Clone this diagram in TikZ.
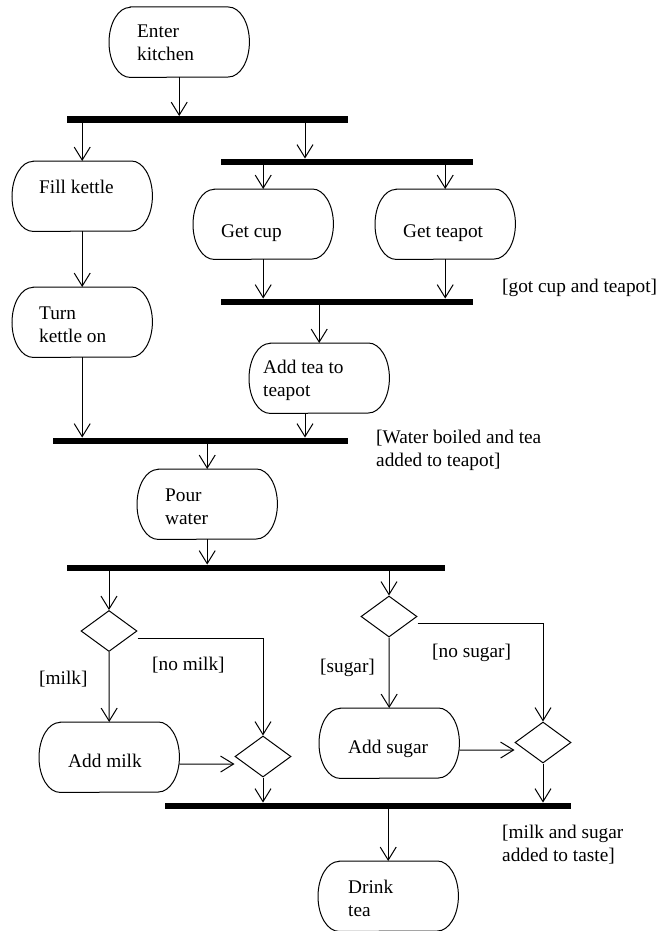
\documentclass[tikz,border=0pt]{standalone}
\usepackage{fontspec}
\setmainfont{Liberation Serif}
\usetikzlibrary{arrows.meta,calc,shapes.geometric}
\tikzset{
  ln/.style={line width=1pt},
  arr/.style={ln,-{Straight Barb[length=13pt,width=16pt]}},
  boxshape/.style={anchor=north west,minimum width=140pt,minimum height=70pt,inner sep=0pt,draw=none},
  rbox/.style={ln},
  txt/.style={anchor=base west,inner sep=0pt,font=\fontsize{19.3}{23}\selectfont},
  bar/.style={fill=black,draw=none,inner sep=0pt,minimum height=6.5pt},
  dec/.style={diamond,draw,ln,inner sep=0pt,minimum width=56pt,minimum height=41pt},
}
\newcommand\actbox[6]{%
  \node[boxshape] (#1) at (#2,#3) {};
  \draw[rbox] ([xshift=21pt]#1.north west) -- ([xshift=-21pt]#1.north east)
    arc[start angle=90,end angle=-90,x radius=21pt,y radius=35pt]
    -- ([xshift=21pt]#1.south west)
    arc[start angle=270,end angle=90,x radius=21pt,y radius=35pt] -- cycle;
  \node[txt] (#1t) at ($(#1.north west)+(#5,#6)$) {\begin{tabular}[t]{@{}l@{}}#4\end{tabular}};
}
\begin{document}
\begin{tikzpicture}[x=1pt,y=-1pt]
\useasboundingbox (0,0) rectangle (658,931);
% activity boxes
\actbox{ek}{109}{7}{Enter\\kitchen}{28}{31}
\actbox{fk}{12}{161}{Fill kettle}{27}{32}
\actbox{tk}{12}{287}{Turn\\kettle on}{27}{32}
\actbox{gc}{193}{189}{Get cup}{28}{48}
\actbox{gt}{375}{189}{Get teapot}{28}{48}
\actbox{at}{249}{343}{Add tea to\\teapot}{14}{30}
\actbox{pw}{137}{469}{Pour\\water}{28}{32}
\actbox{am}{39}{722}{Add milk}{29}{45}
\actbox{as}{319}{708}{Add sugar}{29}{45}
\actbox{dt}{318}{861}{Drink\\tea}{30}{32}
% bars
\node[bar,minimum width=281pt] (b1) at (207.5,119.5) {};
\node[bar,minimum width=252pt] (b2) at (347,162) {};
\node[bar,minimum width=252pt] (b3) at (347,302) {};
\node[bar,minimum width=295pt] (b4) at (200.5,441) {};
\node[bar,minimum width=378pt] (b5) at (256,568) {};
\node[bar,minimum width=406pt] (b6) at (368,806) {};
% decisions
\node[dec] (d1) at (109,631) {};
\node[dec] (d2) at (263,756.5) {};
\node[dec] (d3) at (389,616.5) {};
\node[dec] (d4) at (543,742.5) {};
\coordinate (x305) at (305,0);
% connectors
\draw[arr] (ek.south) -- (b1.north -| ek.south);
\draw[arr] (b1.south -| fk.north) -- (fk.north);
\draw[arr] (b1.south -| x305) -- (b2.north -| x305);
\draw[arr] (b2.south -| gc.north) -- (gc.north);
\draw[arr] (b2.south -| gt.north) -- (gt.north);
\draw[arr] (gc.south) -- (b3.north -| gc.south);
\draw[arr] (gt.south) -- (b3.north -| gt.south);
\draw[arr] (b3.south -| at.north) -- (at.north);
\draw[arr] (fk.south) -- (tk.north);
\draw[arr] (tk.south) -- (b4.north -| tk.south);
\draw[arr] (at.south -| x305) -- (b4.north -| x305);
\draw[arr] (b4.south -| pw.north) -- (pw.north);
\draw[arr] (pw.south) -- (b5.north -| pw.south);
\draw[arr] (b5.south -| d1.north) -- (d1.north);
\draw[arr] (b5.south -| d3.north) -- (d3.north);
\draw[arr] (d1.south) -- (am.north);
\draw[arr] ($(d1.east)+(0,7)$) -| (d2.north);
\draw[arr] ($(am.east)+(0,7)$) -- ($(d2.west)+(0,7.5)$);
\draw[arr] (d3.south) -- (as.north);
\draw[arr] ($(d3.east)+(0,6.5)$) -| (d4.north);
\draw[arr] ($(as.east)+(0,7)$) -- ($(d4.west)+(0,7.5)$);
\draw[arr] (d2.south) -- (b6.north -| d2.south);
\draw[arr] (d4.south) -- (b6.north -| d4.south);
\draw[arr] (b6.south -| dt.north) -- (dt.north);
% guard labels
\node[txt] (l1) at (502,292) {[got cup and teapot]};
\node[txt] (l2) at (376,443) {\begin{tabular}[t]{@{}l@{}}[Water boiled and tea\\added to teapot]\end{tabular}};
\node[txt] (l3) at (39,684) {[milk]};
\node[txt] (l4) at (152,670) {[no milk]};
\node[txt] (l5) at (320,672) {[sugar]};
\node[txt] (l6) at (432,657) {[no sugar]};
\node[txt] (l7) at (502,838) {\begin{tabular}[t]{@{}l@{}}[milk and sugar\\added to taste]\end{tabular}};
\end{tikzpicture}
\end{document}
